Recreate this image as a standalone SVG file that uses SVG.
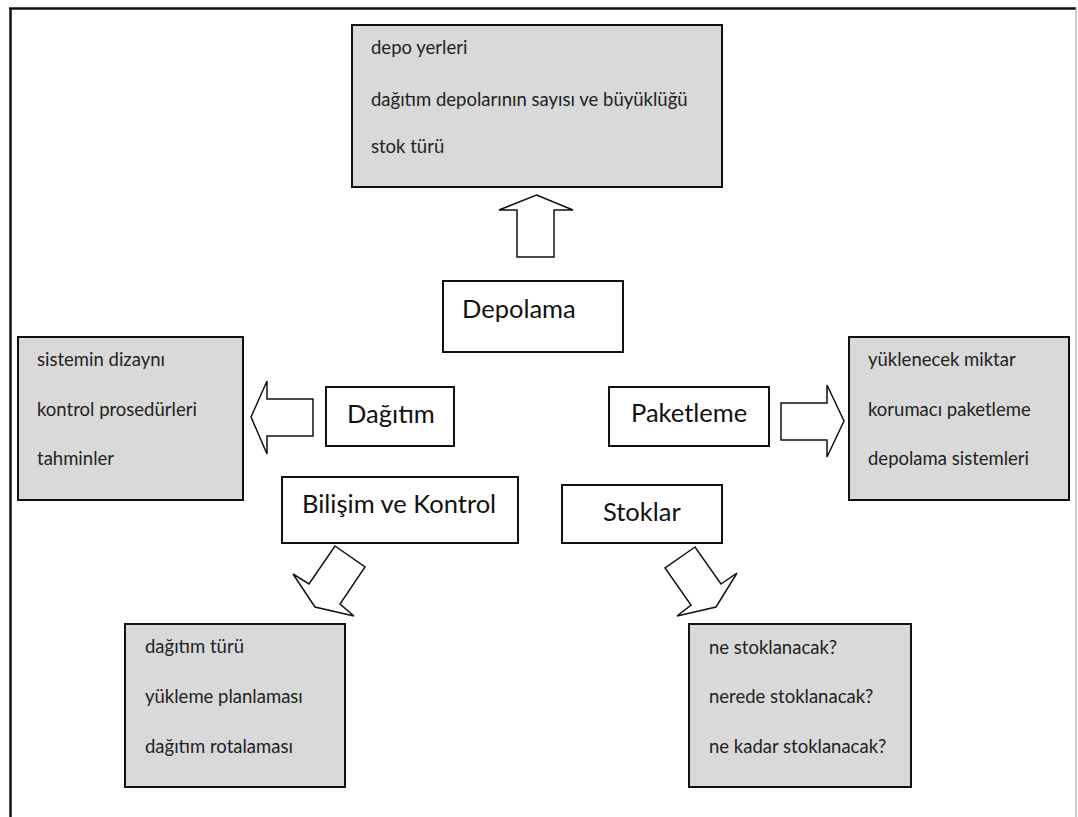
<svg xmlns="http://www.w3.org/2000/svg" width="1078" height="817" viewBox="0 0 1078 817">
<style>
.gbox{fill:#d9d9d9;stroke:#111;stroke-width:2}
.wbox{fill:#fff;stroke:#111;stroke-width:2}
.arrow{fill:#fff;stroke:#111;stroke-width:1.5;stroke-linejoin:miter}
.t{font-family:Lato,"Open Sans","Liberation Sans",sans-serif;font-size:18.5px;fill:#222}
.h{font-family:Lato,"Open Sans","Liberation Sans",sans-serif;font-size:25.5px;fill:#111}
</style>
<rect width="1078" height="817" fill="#fff"/>
<g id="frame">
<line x1="9" y1="8.5" x2="1076" y2="8.5" stroke="#111" stroke-width="2.5"/>
<line x1="10.5" y1="8" x2="10.5" y2="817" stroke="#111" stroke-width="2.5"/>
<line x1="1076" y1="8" x2="1076" y2="817" stroke="#999" stroke-width="1"/>
</g>
<g id="connectors">
<polygon class="arrow" points="536.5,195 573,210 554,210 554,257 517,257 517,210 499,210"/>
<polygon class="arrow" points="251,417 267,381 267,399 313,399 313,436 267,436 267,454"/>
<polygon class="arrow" points="844,421 827,457 827,440 781,440 781,403 827,403 827,385"/>
<polygon class="arrow" points="335,546 365,567 340,604 354,616 315,607 293,574 309,584"/>
<polygon class="arrow" points="695,547 665,568 691,605 677,616 716,607 737,573 721,584"/>
</g>
<g id="depo-detay">
<rect class="gbox" x="352" y="25" width="370" height="162"/>
<text class="t" x="371" y="54">depo yerleri</text>
<text class="t" x="371" y="106">dağıtım depolarının sayısı ve büyüklüğü</text>
<text class="t" x="371" y="153">stok türü</text>
</g>
<g id="depolama">
<rect class="wbox" x="443" y="281" width="180" height="71"/>
<text class="h" x="462" y="318">Depolama</text>
</g>
<g id="dagitim-detay">
<rect class="gbox" x="18" y="337" width="225" height="163"/>
<text class="t" x="37" y="366">sistemin dizaynı</text>
<text class="t" x="37" y="416">kontrol prosedürleri</text>
<text class="t" x="37" y="465">tahminler</text>
</g>
<g id="dagitim">
<rect class="wbox" x="326" y="387" width="128" height="59"/>
<text class="h" x="347" y="423">Dağıtım</text>
</g>
<g id="paketleme">
<rect class="wbox" x="609" y="387" width="160" height="59"/>
<text class="h" x="631" y="422">Paketleme</text>
</g>
<g id="paketleme-detay">
<rect class="gbox" x="849" y="337" width="220" height="163"/>
<text class="t" x="868" y="366">yüklenecek miktar</text>
<text class="t" x="868" y="416">korumacı paketleme</text>
<text class="t" x="868" y="465">depolama sistemleri</text>
</g>
<g id="bilisim">
<rect class="wbox" x="282" y="477" width="236" height="66"/>
<text class="h" x="302" y="513">Bilişim ve Kontrol</text>
</g>
<g id="stoklar">
<rect class="wbox" x="562" y="485" width="160" height="58"/>
<text class="h" x="603" y="521">Stoklar</text>
</g>
<g id="bilisim-detay">
<rect class="gbox" x="125" y="624" width="220" height="163"/>
<text class="t" x="145" y="653">dağıtım türü</text>
<text class="t" x="145" y="703">yükleme planlaması</text>
<text class="t" x="145" y="753">dağıtım rotalaması</text>
</g>
<g id="stoklar-detay">
<rect class="gbox" x="689" y="624" width="222" height="163"/>
<text class="t" x="709" y="654">ne stoklanacak?</text>
<text class="t" x="709" y="703">nerede stoklanacak?</text>
<text class="t" x="709" y="753">ne kadar stoklanacak?</text>
</g>
</svg>
